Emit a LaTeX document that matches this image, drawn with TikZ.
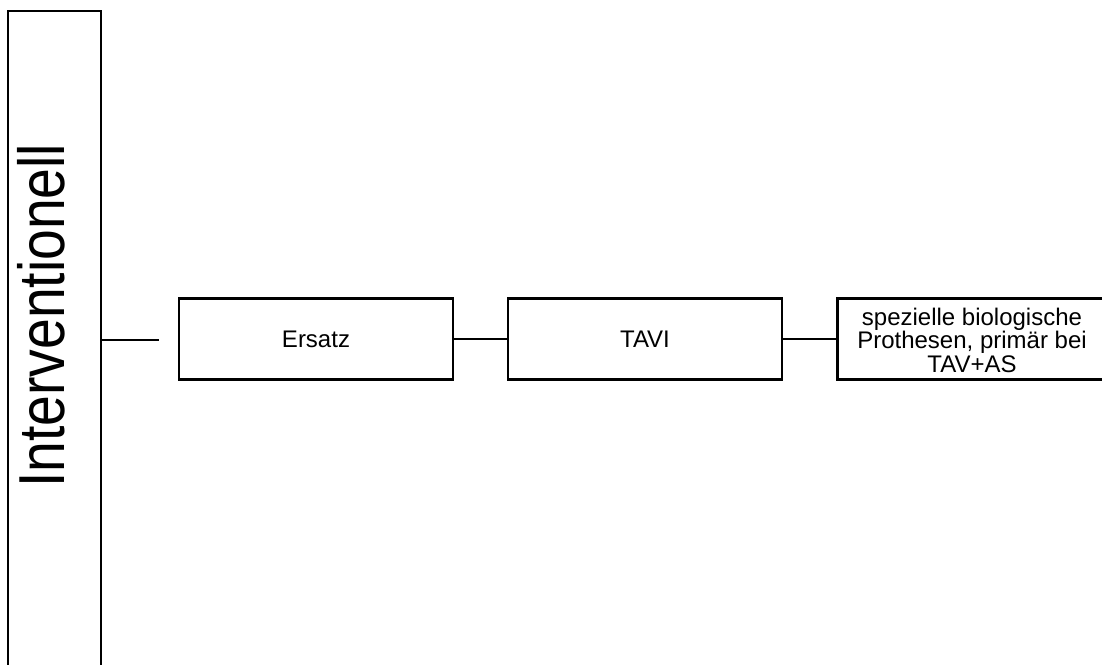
\documentclass[tikz,border=0pt]{standalone}
\usepackage{fontspec}
\setmainfont{Liberation Sans}
\usepackage{graphicx}
\begin{document}
\begin{tikzpicture}[x=1pt,y=-1pt,
  boxstyle/.style={draw=black, line width=2.5pt, inner sep=0pt, align=center,
    font=\fontsize{24}{23.5}\selectfont},
  link/.style={draw=black, line width=2.5pt}]
\useasboundingbox (0,0) rectangle (1102,664);
\clip (0,0) rectangle (1102,664);
\node[boxstyle, minimum width=93pt, minimum height=700pt] (side) at (54.5,361) {};
\node[rotate=90, anchor=base west, inner sep=0pt] (sidelabel) at (64,488)
  {\scalebox{0.85}[1]{\fontsize{65}{65}\selectfont Interventionell}};
\node[boxstyle, minimum width=274pt, minimum height=81pt] (ersatz) at (316,339) {Ersatz};
\node[boxstyle, minimum width=274pt, minimum height=81pt] (tavi) at (645,339) {TAVI};
\node[boxstyle, minimum width=300pt, minimum height=81pt, anchor=west] (prot) at (836,339) {};
\node[align=center, inner sep=0pt, font=\fontsize{24}{23.5}\selectfont] (prottext) at (972,340)
  {spezielle biologische\\Prothesen, primär bei\\TAV+AS};
\coordinate (sideend) at (159,340);
\draw[link] (side.east |- sideend) -- (sideend);
\draw[link] (ersatz.east) -- (tavi.west);
\draw[link] (tavi.east) -- (prot.west);
\end{tikzpicture}
\end{document}
